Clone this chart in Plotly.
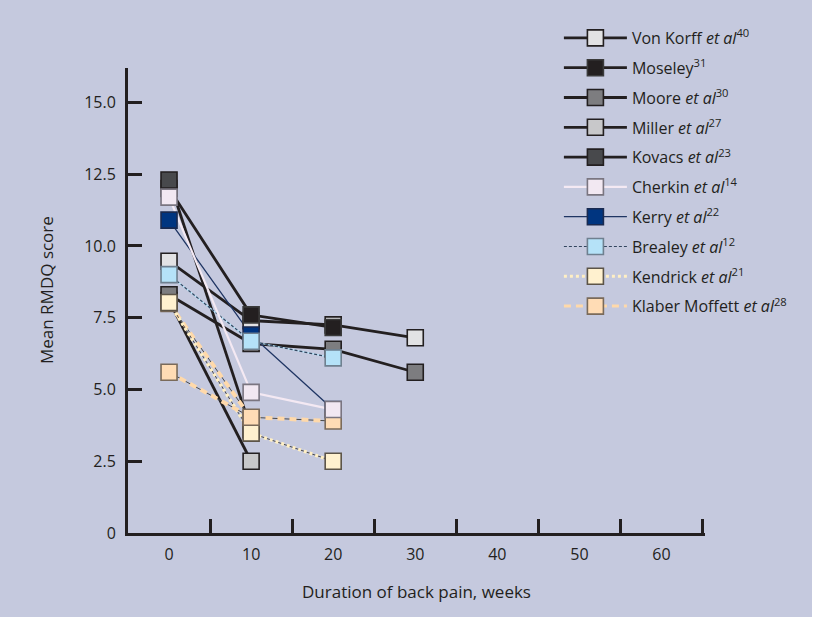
import plotly.graph_objects as go

# ---------------- data ----------------
weeks = [0, 10, 20, 30]
x_tick_vals = [0, 10, 20, 30, 40, 50, 60]
x_tick_text = ["0", "10", "20", "30", "40", "50", "60"]
x_minor_ticks = [5, 15, 25, 35, 45, 55, 65]
y_tick_vals = [0, 2.5, 5, 7.5, 10, 12.5, 15]
y_tick_text = ["0", "2.5", "5.0", "7.5", "10.0", "12.5", "15.0"]

von_korff = [9.47, 7.4, 7.25, 6.8]
moseley = [12.0, 7.6, 7.16]
moore = [8.3, 6.6, 6.4, 5.6]
miller = [8.1, 2.5]
kovacs = [12.3, 3.6]
cherkin = [11.7, 4.9, 4.3]
kerry = [10.9, 6.9, 4.3]
brealey = [9.0, 6.68, 6.1]
kendrick = [8.03, 3.48, 2.5]
klaber_a = [5.6, 4.03, 3.9]
klaber_b = [8.0, 4.0]

names = {
    "vonkorff": "Von Korff <i>et al</i><sup>40</sup>",
    "moseley": "Moseley<sup>31</sup>",
    "moore": "Moore <i>et al</i><sup>30</sup>",
    "miller": "Miller <i>et al</i><sup>27</sup>",
    "kovacs": "Kovacs <i>et al</i><sup>23</sup>",
    "cherkin": "Cherkin <i>et al</i><sup>14</sup>",
    "kerry": "Kerry <i>et al</i><sup>22</sup>",
    "brealey": "Brealey <i>et al</i><sup>12</sup>",
    "kendrick": "Kendrick <i>et al</i><sup>21</sup>",
    "klaber": "Klaber Moffett <i>et al</i><sup>28</sup>",
}

INK = "#231f20"
BG = "#c5c9de"

style = {
    "vonkorff": dict(fill="#e2e2e4", edge=INK, line=INK, width=2.8, dash="solid", under=None),
    "moseley": dict(fill="#231f20", edge="#3a3a3a", line=INK, width=2.8, dash="solid", under=None),
    "moore": dict(fill="#7d7d80", edge=INK, line=INK, width=2.8, dash="solid", under=None),
    "miller": dict(fill="#c8c8ca", edge=INK, line=INK, width=2.8, dash="solid", under=None),
    "kovacs": dict(fill="#48494c", edge=INK, line=INK, width=2.8, dash="solid", under=None),
    "cherkin": dict(fill="#f2e8f2", edge="#7a7580", line="#f4e9f3", width=2.2, dash="solid", under=None),
    "kerry": dict(fill="#003580", edge="#1a2a50", line="#1f3563", width=1.3, dash="solid", under=None),
    "brealey": dict(fill="#b5e2f8", edge="#6f8090", line="#33465f", width=1.2, dash="3px,2px", under=("#b5e2f8", 1.4)),
    "kendrick": dict(fill="#fff1cf", edge="#5c5448", line="#ffefc4", width=3.4, dash="3px,3px", under=("#4a4a4a", 1.0)),
    "klaber": dict(fill="#ffdcb5", edge="#7a6a5a", line="#ffd9aa", width=4.0, dash="7px,5px", under=("#4a4a4a", 1.0)),
}

# (key, values) in drawing order (later on top)
series = [
    ("miller", miller),
    ("vonkorff", von_korff),
    ("moseley", moseley),
    ("moore", moore),
    ("kovacs", kovacs),
    ("kerry", kerry),
    ("brealey", brealey),
    ("klaber", klaber_b),
    ("kendrick", kendrick),
    ("klaber", klaber_a),
    ("cherkin", cherkin),
]

legend_order = ["vonkorff", "moseley", "moore", "miller", "kovacs",
                "cherkin", "kerry", "brealey", "kendrick", "klaber"]

fig = go.Figure()

for key, vals in series:
    s = style[key]
    xs = weeks[:len(vals)]
    if s["under"] is not None:
        fig.add_trace(go.Scatter(x=xs, y=vals, mode="lines", showlegend=False, hoverinfo="skip",
                                 line=dict(color=s["under"][0], width=s["under"][1])))
    fig.add_trace(go.Scatter(x=xs, y=vals, mode="lines", showlegend=False, hoverinfo="skip",
                             line=dict(color=s["line"], width=s["width"], dash=s["dash"])))

for key, vals in series:
    s = style[key]
    xs = weeks[:len(vals)]
    fig.add_trace(go.Scatter(x=xs, y=vals, mode="markers", showlegend=False,
                             marker=dict(symbol="square", size=16, color=s["fill"],
                                         line=dict(color=s["edge"], width=1.6))))

for rank, key in enumerate(legend_order):
    s = style[key]
    fig.add_trace(go.Scatter(x=[None], y=[None], mode="lines+markers", name=names[key],
                             legendgroup=key, legendrank=rank + 1,
                             line=dict(color=s["line"], width=min(s["width"], 3), dash=s["dash"]),
                             marker=dict(symbol="square", size=17, color=s["fill"],
                                         line=dict(color=s["edge"], width=1.6))))

FONT = "Open Sans, Liberation Sans, sans-serif"

fig.update_layout(
    width=812, height=617,
    paper_bgcolor=BG, plot_bgcolor=BG,
    margin=dict(l=128, r=107, t=68, b=84, autoexpand=False),
    font=dict(family=FONT, size=16, color=INK),
    legend=dict(
        xref="container", yref="container",
        x=0.6883, y=0.966, xanchor="left", yanchor="top",
        bgcolor="rgba(0,0,0,0)", borderwidth=0,
        font=dict(family=FONT, size=16, color=INK),
        tracegroupgap=6, itemwidth=63, traceorder="grouped",
    ),
    xaxis=dict(
        range=[-5, 65.3], showgrid=False, zeroline=False,
        showline=True, linewidth=3, linecolor=INK,
        tickmode="array", tickvals=x_tick_vals, ticktext=x_tick_text, ticks="",
        ticklabelstandoff=5, tickfont=dict(size=16),
        minor=dict(tickmode="array", tickvals=x_minor_ticks, ticks="inside",
                   ticklen=14, tickwidth=3, tickcolor=INK, showgrid=False),
        title=dict(text="Duration of back pain, weeks", standoff=22,
                   font=dict(family=FONT, size=17, color=INK)),
        fixedrange=True,
    ),
    yaxis=dict(
        range=[0, 16.2], showgrid=False, zeroline=False,
        showline=True, linewidth=3, linecolor=INK,
        tickmode="array", tickvals=y_tick_vals, ticktext=y_tick_text,
        ticks="inside", ticklen=14, tickwidth=3, tickcolor=INK,
        ticklabelstandoff=6, tickfont=dict(size=16),
        fixedrange=True,
    ),
    annotations=[dict(
        text="Mean RMDQ score", textangle=-90,
        xref="paper", yref="paper", x=-(128 - 46) / 577, y=(533 - 290) / 465,
        xanchor="center", yanchor="middle", showarrow=False,
        font=dict(family=FONT, size=17, color=INK),
    )],
)

fig.write_html("out.html", post_script="document.body.style.margin='0px';",
               config={"displayModeBar": False})
